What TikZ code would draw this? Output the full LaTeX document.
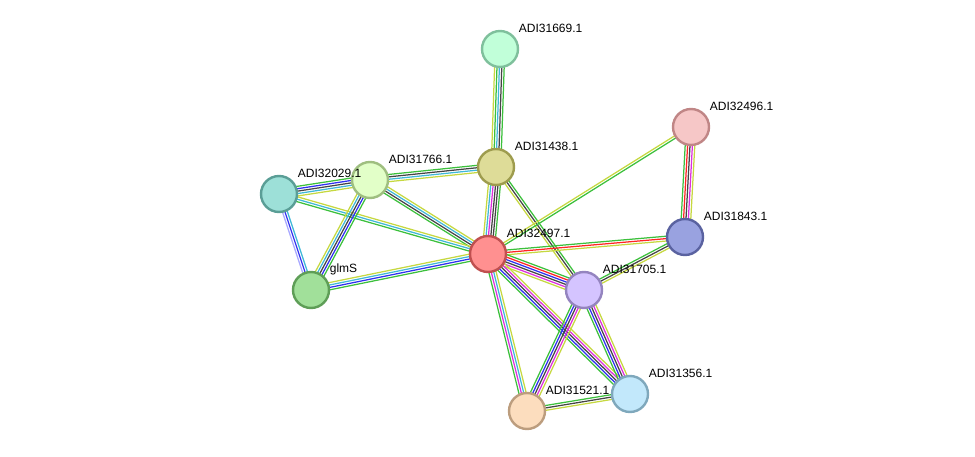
\documentclass[tikz,border=0pt]{standalone}
\usepackage{fontspec}
\setmainfont{Liberation Sans}
\usepackage{xcolor}
\usetikzlibrary{calc,backgrounds}

\definecolor{sgreen}{HTML}{3CC03C}
\definecolor{sblue}{HTML}{3030F0}
\definecolor{scyan}{HTML}{40B8D8}
\definecolor{sgray}{HTML}{454545}
\definecolor{syel}{HTML}{C6D840}
\definecolor{smag}{HTML}{DD30DD}
\definecolor{sred}{HTML}{FF2525}
\definecolor{slav}{HTML}{A8A8FF}

% node fill / border
\definecolor{mintF}{HTML}{C1FFD9}\definecolor{mintD}{HTML}{7FC09C}
\definecolor{pinkF}{HTML}{F6C7C7}\definecolor{pinkD}{HTML}{C08686}
\definecolor{khakiF}{HTML}{DEDC98}\definecolor{khakiD}{HTML}{9E9C4E}
\definecolor{limeF}{HTML}{E2FFC8}\definecolor{limeD}{HTML}{9FBF80}
\definecolor{tealF}{HTML}{9DE0D8}\definecolor{tealD}{HTML}{5A9E96}
\definecolor{indigoF}{HTML}{99A2E0}\definecolor{indigoD}{HTML}{5A62A0}
\definecolor{redF}{HTML}{FF9090}\definecolor{redD}{HTML}{C05050}
\definecolor{leafF}{HTML}{A1E09A}\definecolor{leafD}{HTML}{5E9E57}
\definecolor{lilacF}{HTML}{D4C4FF}\definecolor{lilacD}{HTML}{9484BF}
\definecolor{skyF}{HTML}{C2E8FB}\definecolor{skyD}{HTML}{7FA8BC}
\definecolor{peachF}{HTML}{FCDDBE}\definecolor{peachD}{HTML}{BC9D7E}

\tikzset{
  prot/.style={circle, minimum size=36pt, inner sep=0pt, line width=2.4pt, fill=#1F, draw=#1D},
  lbl/.style={font=\fontsize{12}{14}\selectfont, inner sep=1pt},
  tag/.style={label={[lbl,xshift=-1.5pt,yshift=21pt]right:#1}}
}

\newcount\nlines
\newcommand{\link}[3]{%
  \global\nlines=0
  \foreach \c in {#3}{\global\advance\nlines by 1}
  \foreach \c [count=\i] in {#3}{
    \pgfmathsetmacro\off{(\i-(\the\nlines+1)/2)*2.4}
    \draw[\c, line width=1.25pt] ($(#1)!\off pt!90:(#2)$) -- ($(#2)!\off pt!-90:(#1)$);
  }
}

\begin{document}
\begin{tikzpicture}[x=1pt, y=-1pt]
  \useasboundingbox (0,0) rectangle (975,457);

  % proteins
  \node[prot=mint, tag=ADI31669.1] (p31669) at (500,49) {};
  \node[prot=pink, tag=ADI32496.1] (p32496) at (691,127) {};
  \node[prot=khaki, tag=ADI31438.1] (p31438) at (496,167) {};
  \node[prot=lime, tag=ADI31766.1] (p31766) at (370,180) {};
  \node[prot=teal, tag=ADI32029.1] (p32029) at (279,194) {};
  \node[prot=indigo, tag=ADI31843.1] (p31843) at (685,237) {};
  \node[prot=red, tag=ADI32497.1] (p32497) at (488,254) {};
  \node[prot=leaf, tag=glmS] (glms) at (311,290) {};
  \node[prot=lilac, tag=ADI31705.1] (p31705) at (584,290) {};
  \node[prot=sky, tag=ADI31356.1] (p31356) at (630,394) {};
  \node[prot=peach, tag=ADI31521.1] (p31521) at (527,411) {};

  % interactions
  \begin{pgfonlayer}{background}
    \link{p31669}{p31438}{syel,sgreen,scyan,sgray,sgreen}
    \link{p31438}{p32497}{syel,scyan,smag,sgray,sgray,sgreen}
    \link{p31766}{p31438}{syel,scyan,sgray,sgreen}
    \link{p31438}{p31705}{syel,sgray,sgreen}
    \link{p32496}{p32497}{syel,sgreen}
    \link{p32496}{p31843}{sgreen,sred,sgray,smag,syel}
    \link{p32497}{p31843}{syel,sred,sgreen}
    \link{p31843}{p31705}{sgreen,sgray,syel}
    \link{p32497}{p31705}{syel,smag,sgray,sblue,sred,sgreen}
    \link{p32497}{p31356}{sgreen,sblue,sgray,smag,syel}
    \link{p32497}{p31521}{sgreen,smag,scyan,syel}
    \link{p31705}{p31521}{sgreen,sblue,sgray,smag,syel}
    \link{p31705}{p31356}{sgreen,sblue,sgray,smag,syel}
    \link{p31521}{p31356}{syel,sgray,sgreen}
    \link{p31766}{p32497}{sgreen,sgray,scyan,syel}
    \link{p32029}{p32497}{sgreen,scyan,syel}
    \link{glms}{p32497}{sgreen,sblue,scyan,syel}
    \link{p32029}{p31766}{syel,scyan,sgray,sblue,sgreen}
    \link{p31766}{glms}{syel,scyan,sgray,sblue,sgreen}
    \link{p32029}{glms}{slav,sblue,scyan}
  \end{pgfonlayer}
\end{tikzpicture}
\end{document}
